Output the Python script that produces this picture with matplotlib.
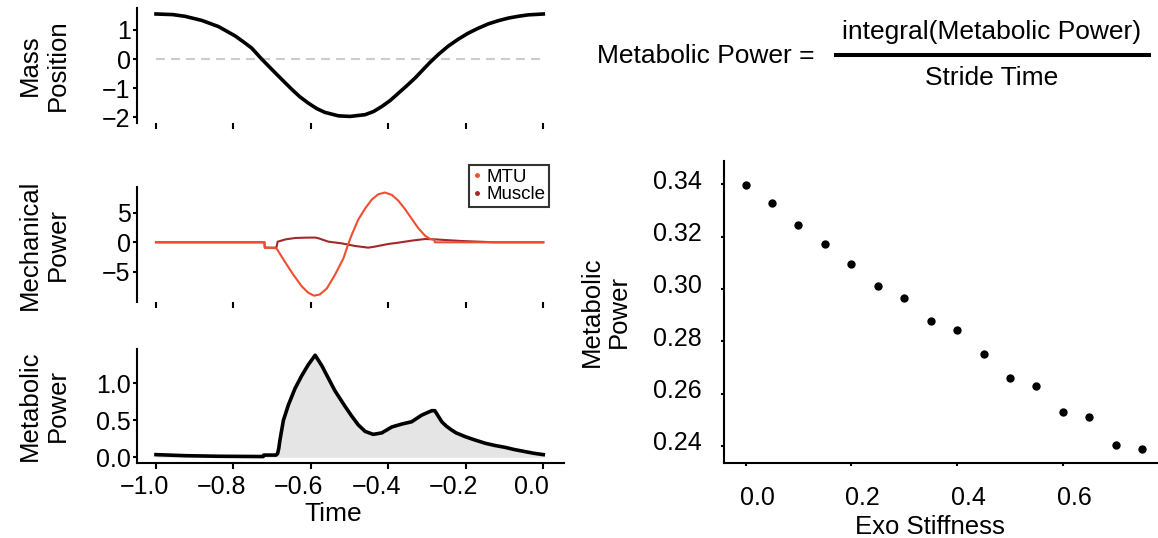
import numpy as np
import matplotlib
matplotlib.use('Agg')
import matplotlib.pyplot as plt
from matplotlib.lines import Line2D
from matplotlib.transforms import ScaledTranslation

plt.rcParams['font.family'] = ['Liberation Sans', 'DejaVu Sans']

# mass position over one stride
pos_t = [-1.0, -0.957, -0.925, -0.882, -0.839, -0.796, -0.775, -0.753, -0.727, -0.710,
         -0.693, -0.672, -0.650, -0.629, -0.607, -0.585, -0.564, -0.529, -0.499, -0.460,
         -0.438, -0.417, -0.395, -0.374, -0.352, -0.331, -0.293, -0.270, -0.246, -0.220,
         -0.194, -0.168, -0.142, -0.116, -0.090, -0.065, -0.039, 0.0]
pos = [1.55, 1.53, 1.47, 1.33, 1.12, 0.80, 0.60, 0.38, 0.0, -0.23,
       -0.46, -0.74, -1.03, -1.29, -1.51, -1.70, -1.83, -1.95, -1.97, -1.91,
       -1.80, -1.63, -1.42, -1.17, -0.91, -0.65, -0.12, 0.17, 0.44, 0.68,
       0.89, 1.06, 1.21, 1.32, 1.41, 1.47, 1.52, 1.55]

# mechanical power, MTU and muscle
mtu_t = [-1.0, -0.720, -0.719, -0.689, -0.667, -0.645, -0.624, -0.607, -0.592, -0.577,
         -0.559, -0.538, -0.516, -0.503, -0.495, -0.478, -0.460, -0.443, -0.426, -0.409,
         -0.391, -0.374, -0.357, -0.340, -0.323, -0.305, -0.293, -0.281, -0.280, 0.0]
mtu_power = [0.0, 0.0, -0.9, -1.0, -3.3, -5.5, -7.4, -8.5, -9.0, -8.8,
             -7.8, -5.5, -2.7, -0.2, 1.2, 3.8, 5.7, 7.2, 8.1, 8.4,
             8.0, 7.0, 5.6, 4.0, 2.4, 1.1, 0.6, 0.4, 0.0, 0.0]
muscle_t = [-1.0, -0.720, -0.719, -0.689, -0.686, -0.665, -0.640, -0.610, -0.589, -0.580,
            -0.555, -0.521, -0.486, -0.452, -0.435, -0.400, -0.374, -0.340, -0.305, -0.280,
            -0.254, -0.211, -0.168, -0.125, 0.0]
muscle_power = [0.0, 0.0, -0.9, -0.9, 0.1, 0.5, 0.73, 0.79, 0.8, 0.67,
                0.11, -0.17, -0.62, -0.9, -0.73, -0.28, -0.06, 0.28, 0.56, 0.5,
                0.39, 0.22, 0.11, 0.0, 0.0]

# metabolic power over the stride
met_t = [-1.0, -0.925, -0.839, -0.723, -0.722, -0.690, -0.686, -0.683, -0.680, -0.671,
         -0.658, -0.641, -0.624, -0.607, -0.589, -0.572, -0.538, -0.512, -0.495, -0.478,
         -0.460, -0.439, -0.417, -0.391, -0.365, -0.340, -0.314, -0.288, -0.280, -0.262,
         -0.250, -0.237, -0.225, -0.202, -0.180, -0.150, -0.125, -0.099, -0.075, -0.047,
         -0.025, 0.0]
met = [0.036, 0.022, 0.014, 0.01, 0.03, 0.03, 0.05, 0.12, 0.23, 0.50,
       0.71, 0.93, 1.10, 1.25, 1.38, 1.24, 0.90, 0.69, 0.56, 0.44,
       0.35, 0.31, 0.33, 0.41, 0.45, 0.48, 0.57, 0.63, 0.63, 0.48,
       0.42, 0.37, 0.33, 0.28, 0.24, 0.19, 0.16, 0.135, 0.105, 0.077,
       0.055, 0.036]

# average metabolic power vs exo stiffness
stiffness = [0.0, 0.05, 0.10, 0.15, 0.20, 0.25, 0.30, 0.35,
             0.40, 0.45, 0.50, 0.55, 0.60, 0.65, 0.70, 0.75]
avg_met = [0.3396, 0.3327, 0.3245, 0.3173, 0.3094, 0.3013, 0.2967, 0.2878,
           0.2842, 0.2753, 0.2659, 0.2631, 0.2531, 0.2510, 0.2405, 0.2387]

MTU_C = '#f04e30'
MUS_C = '#a3282a'
TICK_FS = 18
LAB_FS = 18.5

fig = plt.figure(figsize=(11.58, 5.38), dpi=100)
L, W = 137/1158, 427/1158
ax1 = fig.add_axes([L, 1-123/538, W, 115/538])
ax2 = fig.add_axes([L, 1-302/538, W, 115/538])
ax3 = fig.add_axes([L, 1-463/538, W, 114/538])
ax4 = fig.add_axes([724.4/1158, 1-462.7/538, 1-724.4/1158, 301.7/538])

def style(ax):
    for s in ['top', 'right']:
        ax.spines[s].set_visible(False)
    for sp in ax.spines.values():
        sp.set_linewidth(1.5)
    ax.tick_params(labelsize=TICK_FS, width=1.5)
    ax.tick_params(axis='y', length=3, pad=1.5)
    ax.tick_params(axis='x', length=4, pad=5)

def shift_labels(axis, dx, dy):
    off = ScaledTranslation(dx/100, dy/100, fig.dpi_scale_trans)
    for tk in axis.get_major_ticks():
        tk.label1.set_transform(tk.label1.get_transform() + off)

for ax in [ax1, ax2, ax3]:
    style(ax)
    ax.set_xlim(-1.049, 0.0535)
    ax.set_xticks([-1.0, -0.8, -0.6, -0.4, -0.2, 0.0])
for ax in [ax1, ax2]:
    ax.spines['bottom'].set_visible(False)
    ax.tick_params(axis='x', labelbottom=False)

ax1.hlines(0, -1, 0, colors='#cccccc', linestyles=(0, (4.3, 2.9)), lw=1.5)
ax1.plot(pos_t, pos, color='k', lw=2.6, solid_joinstyle='round')
ax1.set_ylim(-2.196, 1.756)
ax1.set_yticks([-2, -1, 0, 1])
ax1.set_ylabel('Mass\nPosition', fontsize=LAB_FS)

ax2.plot(muscle_t, muscle_power, color=MUS_C, lw=1.5)
ax2.plot(mtu_t, mtu_power, color=MTU_C, lw=1.5)
ax2.set_ylim(-10.07, 9.33)
ax2.set_yticks([-5, 0, 5])
ax2.set_ylabel('Mechanical\nPower', fontsize=LAB_FS)
handles = [Line2D([], [], ls='none', marker='o', ms=2.5, color=MTU_C),
           Line2D([], [], ls='none', marker='o', ms=2.5, color=MUS_C)]
leg = ax2.legend(handles, ['MTU', 'Muscle'], loc='upper right', bbox_to_anchor=(0.9656, 1.19),
                 borderaxespad=0, fontsize=13.5, frameon=True, fancybox=False,
                 handlelength=0.5, handletextpad=0.25, borderpad=0.2, labelspacing=0.0)
leg.get_frame().set_edgecolor('k')
leg.get_frame().set_linewidth(1.5)

ax3.fill_between(met_t, 0, met, color='#e5e5e5', lw=0)
ax3.plot(met_t, met, color='k', lw=2.6, solid_joinstyle='round')
ax3.set_ylim(-0.077, 1.464)
ax3.set_yticks([0.0, 0.5, 1.0])
ax3.set_yticklabels(['0.0', '0.5', '1.0'])
ax3.set_ylabel('Metabolic\nPower', fontsize=LAB_FS)
ax3.set_xlabel('Time', fontsize=19)
ax3.xaxis.set_label_coords(0.46, -0.342)
shift_labels(ax3.xaxis, -12, 0)

for ax in [ax1, ax2, ax3]:
    ax.yaxis.set_label_coords(-0.157, 0.5)

style(ax4)
ax4.scatter(stiffness, avg_met, s=36, color='k', lw=0)
ax4.set_xlim(-0.04, 0.78)
ax4.set_ylim(0.2336, 0.3489)
ax4.set_xticks([0.0, 0.2, 0.4, 0.6])
ax4.set_yticks([0.24, 0.26, 0.28, 0.30, 0.32, 0.34])
ax4.set_yticklabels(['0.24', '0.26', '0.28', '0.30', '0.32', '0.34'])
ax4.tick_params(axis='both', length=2.5)
ax4.tick_params(axis='y', pad=14)
ax4.tick_params(axis='x', pad=14)
shift_labels(ax4.xaxis, 11.5, 0)
shift_labels(ax4.yaxis, 0, 5)
ax4.set_ylabel('Metabolic\nPower', fontsize=LAB_FS)
ax4.yaxis.set_label_coords(-0.215, 0.5)
ax4.set_xlabel('Exo Stiffness', fontsize=LAB_FS)
ax4.xaxis.set_label_coords(0.474, -0.172)

# formula for the averaged metabolic power
fig.text(597/1158, 1-56/538, 'Metabolic Power =', fontsize=19, ha='left', va='center')
fig.text(992/1158, 1-32/538, 'integral(Metabolic Power)', fontsize=19, ha='center', va='center')
fig.text(992/1158, 1-78/538, 'Stride Time', fontsize=19, ha='center', va='center')
fig.add_artist(Line2D([835.5/1158, 1148.5/1158], [1-55/538, 1-55/538], color='k', lw=2.9,
                      transform=fig.transFigure))

fig.savefig('out.png', dpi=100)
